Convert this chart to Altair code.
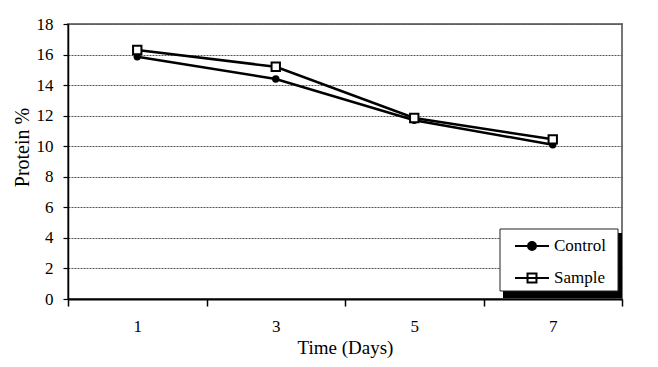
import altair as alt
import pandas as pd

days = ["1", "3", "5", "7"]
control = [15.85, 14.4, 11.7, 10.1]
sample = [16.3, 15.2, 11.85, 10.45]
series_names = ["Control", "Sample"]
y_ticks = [0, 2, 4, 6, 8, 10, 12, 14, 16, 18]

rows = []
for d, c, s in zip(days, control, sample):
    rows.append({"day": d, "protein": c, "series": "Control"})
    rows.append({"day": d, "protein": s, "series": "Sample"})
df = pd.DataFrame(rows)

FONT = "Liberation Serif"

x_enc = alt.X(
    "day:O",
    sort=days,
    scale=alt.Scale(paddingInner=0, paddingOuter=0),
    axis=alt.Axis(
        title="Time (Days)",
        labelAngle=0,
        tickBand="extent",
        tickSize=7,
        tickColor="black",
        tickWidth=1.5,
        domainColor="black",
        domainWidth=2,
        labelPadding=12,
        labelFontSize=17,
        labelFont=FONT,
        labelColor="black",
        titleFont=FONT,
        titleFontSize=19,
        titleFontWeight="normal",
        titleColor="black",
        titleBaseline="alphabetic",
        titleY=54,
        grid=False,
    ),
)
y_enc = alt.Y(
    "protein:Q",
    scale=alt.Scale(domain=[0, 18], nice=False, zero=True),
    axis=alt.Axis(
        title="Protein %",
        values=y_ticks,
        tickSize=5,
        tickColor="black",
        tickWidth=1.2,
        domainColor="black",
        domainWidth=1.5,
        labelPadding=10,
        labelFontSize=17,
        labelFont=FONT,
        labelColor="black",
        titleFont=FONT,
        titleFontSize=20,
        titleFontWeight="normal",
        titleColor="black",
        titleBaseline="alphabetic",
        titleX=-40,
        titleY=123,
        grid=True,
        gridColor="#555555",
        gridDash=[2, 1],
        gridWidth=1,
    ),
)

base = alt.Chart(df)

lines = base.mark_line(strokeWidth=2.5, color="black").encode(
    x=x_enc,
    y=y_enc,
    detail="series:N",
)

ctrl_pts = base.transform_filter(alt.datum.series == "Control").mark_point(
    shape="circle", filled=True, size=55, color="black", opacity=1
).encode(x=x_enc, y=y_enc)

samp_pts = base.transform_filter(alt.datum.series == "Sample").mark_point(
    shape="square", filled=False, fill="white", stroke="black",
    strokeWidth=2, size=70, opacity=1
).encode(x=x_enc, y=y_enc)

# legend frame: drop shadow and white box
deco = pd.DataFrame({"a": [0]})
shadow = alt.Chart(deco).mark_rect(color="black").encode(
    x=alt.value(435), x2=alt.value(554), y=alt.value(209), y2=alt.value(274)
)
legend_box = alt.Chart(deco).mark_rect(
    fill="white", stroke="#222222", strokeWidth=1
).encode(
    x=alt.value(432), x2=alt.value(550), y=alt.value(205), y2=alt.value(267)
)

path_ctrl = "M-1.214,0L1.214,0M-0.286,0A0.286,0.286,0,1,1,0.286,0A0.286,0.286,0,1,1,-0.286,0Z"
path_samp = "M-1.214,0L1.214,0M-0.32,-0.32L0.32,-0.32L0.32,0.32L-0.32,0.32Z"

legend_props = dict(
    title=None,
    orient="none",
    legendX=449,
    legendY=207,
    padding=0,
    symbolOffset=0,
    symbolSize=784,
    symbolStrokeWidth=2,
    symbolStrokeColor="black",
    labelOffset=7,
    rowPadding=8,
    labelFont=FONT,
    labelFontSize=17,
    labelColor="black",
)

# legend-only layer: no rows survive the filter, so only the legend is drawn
legend_layer = base.transform_filter(alt.datum.protein < -1000).mark_point(
    filled=True, size=784, stroke="black", strokeWidth=2, opacity=1
).encode(
    x=x_enc,
    y=y_enc,
    color=alt.Color(
        "series:N",
        scale=alt.Scale(domain=series_names, range=["black", "white"]),
        legend=alt.Legend(**legend_props),
    ),
    shape=alt.Shape(
        "series:N",
        scale=alt.Scale(domain=series_names, range=[path_ctrl, path_samp]),
        legend=alt.Legend(**legend_props),
    ),
)

chart = (
    alt.layer(lines, ctrl_pts, samp_pts, shadow, legend_box, legend_layer)
    .properties(
        width=554,
        height=275,
        autosize=alt.AutoSizeParams(type="none"),
        padding={"left": 60, "top": 16, "right": 20, "bottom": 60},
        background="white",
    )
    .configure(font=FONT)
    .configure_view(stroke="#777777", strokeWidth=2)
    .configure_axis(labelFont=FONT, titleFont=FONT)
    .configure_legend(labelFont=FONT, titleFont=FONT)
)

chart.save("out.html", embed_options={"renderer": "svg", "actions": False})
